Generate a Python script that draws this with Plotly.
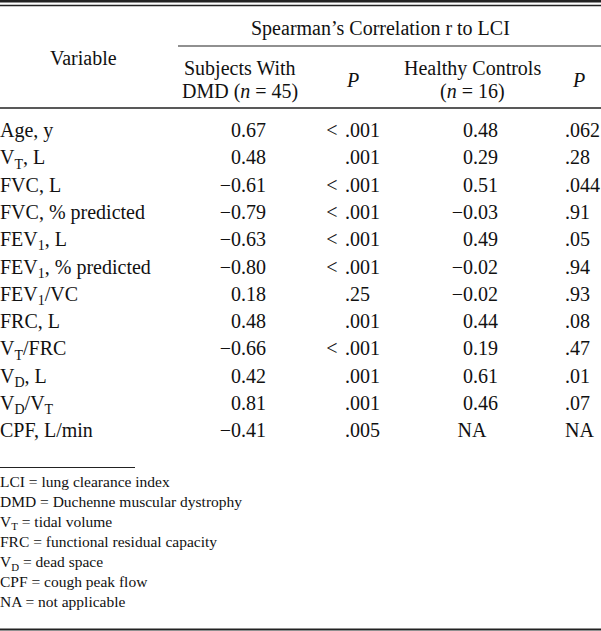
import plotly.graph_objects as go

# ---- data ----
variables = ["Age, y", "V<sub>T</sub>, L", "FVC, L", "FVC, % predicted",
             "FEV<sub>1</sub>, L", "FEV<sub>1</sub>, % predicted", "FEV<sub>1</sub>/VC",
             "FRC, L", "V<sub>T</sub>/FRC", "V<sub>D</sub>, L", "V<sub>D</sub>/V<sub>T</sub>",
             "CPF, L/min"]
dmd_r = ["0.67", "0.48", "−0.61", "−0.79", "−0.63", "−0.80", "0.18",
         "0.48", "−0.66", "0.42", "0.81", "−0.41"]
dmd_p = ["< .001", ".001", "< .001", "< .001", "< .001", "< .001", ".25",
         ".001", "< .001", ".001", ".001", ".005"]
hc_r = ["0.48", "0.29", "0.51", "−0.03", "0.49", "−0.02", "−0.02",
        "0.44", "0.19", "0.61", "0.46", "NA"]
hc_p = [".062", ".28", ".044", ".91", ".05", ".94", ".93",
        ".08", ".47", ".01", ".07", "NA"]
footnotes = ["LCI = lung clearance index",
             "DMD = Duchenne muscular dystrophy",
             "V<sub>T</sub> = tidal volume",
             "FRC = functional residual capacity",
             "V<sub>D</sub> = dead space",
             "CPF = cough peak flow",
             "NA = not applicable"]

W, H = 601, 631
FONT = "Liberation Serif"
BODY = 20
FOOT = 15.5
INK = "#111111"

row_y0, row_dy = 132, 27.3
row_y = [row_y0 + i * row_dy for i in range(len(variables))]

fig = go.Figure()

def text_trace(xs, ys, texts, pos, size=BODY):
    fig.add_trace(go.Scatter(
        x=xs, y=ys, text=texts, mode="text", textposition=pos,
        textfont=dict(family=FONT, size=size, color=INK),
        hoverinfo="skip", showlegend=False, cliponaxis=False))

# variable names (left aligned)
text_trace([0] * len(variables), row_y, variables, "middle right")
# DMD correlations (right aligned)
text_trace([266] * len(dmd_r), row_y, dmd_r, "middle left")
# DMD P values: "<" hanging, value left aligned
lt_y = [y for y, p in zip(row_y, dmd_p) if p.startswith("<")]
text_trace([332] * len(lt_y), lt_y, ["<"] * len(lt_y), "middle center")
text_trace([345] * len(dmd_p), row_y, [p.replace("<", "").strip() for p in dmd_p], "middle right")
# Healthy controls correlations
num_idx = [i for i, v in enumerate(hc_r) if v != "NA"]
na_idx = [i for i, v in enumerate(hc_r) if v == "NA"]
text_trace([498] * len(num_idx), [row_y[i] for i in num_idx], [hc_r[i] for i in num_idx], "middle left")
text_trace([472] * len(na_idx), [row_y[i] for i in na_idx], [hc_r[i] for i in na_idx], "middle center")
# Healthy controls P
text_trace([565] * len(hc_p), row_y, hc_p, "middle right")

# footnotes
foot_y = [483 + i * 20.1 for i in range(len(footnotes))]
text_trace([0] * len(footnotes), foot_y, footnotes, "middle right", size=FOOT)

# header
def hdr(x, y, t):
    fig.add_annotation(x=x, y=y, xref="x", yref="y", text=t, showarrow=False,
                       font=dict(family=FONT, size=BODY, color=INK),
                       xanchor="center", yanchor="middle")

hdr(380, 28, "Spearman’s Correlation r to LCI")
hdr(83, 58, "Variable")
hdr(240, 68, "Subjects With")
hdr(240, 91, "DMD (<i>n</i> = 45)")
hdr(352, 80, "<i>P</i>")
hdr(472, 68, "Healthy Controls")
hdr(472, 91, "(<i>n</i> = 16)")
hdr(578, 80, "<i>P</i>")

# rules
def rule(x0, x1, y, w):
    fig.add_shape(type="line", xref="x", yref="y", x0=x0, x1=x1, y0=y, y1=y,
                  line=dict(color="#222222", width=w))

rule(0, W, 1.2, 2.4)
rule(0, W, 5.5, 1.4)
rule(178, W, 46, 1.2)
rule(0, W, 108, 1.5)
rule(0, 135, 467.5, 1.2)
rule(0, W, 629.5, 2.2)

fig.update_layout(
    width=W, height=H, margin=dict(l=0, r=0, t=0, b=0),
    paper_bgcolor="white", plot_bgcolor="white",
    xaxis=dict(range=[0, W], visible=False, fixedrange=True),
    yaxis=dict(range=[H, 0], visible=False, fixedrange=True),
)

fig.write_html("out.html", config={"displayModeBar": False},
               post_script="document.body.style.margin='0';document.body.style.padding='0';document.body.style.overflow='hidden';")
